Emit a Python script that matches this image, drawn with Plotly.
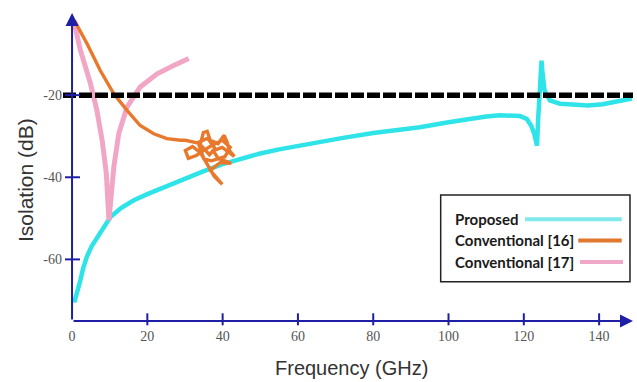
import plotly.graph_objects as go

# ---------------- data ----------------
prop_f = [0.6, 1.2, 2.2, 3.0, 4.0, 5.2, 6.7, 8.3, 10.2, 13, 16.4, 20, 23.4, 27, 30.5, 35, 40, 45,
          50, 55, 60, 66, 72, 80, 86, 92.4, 100, 106, 110, 113.6, 117, 119, 120.8, 122, 122.8,
          123.5, 123.8, 124.2, 124.7, 124.9, 125.1, 125.5, 126.9, 129.6, 133, 137, 141, 145.5, 148.7]
prop_db = [-70.5, -68, -65.1, -62, -59.2, -56.8, -54.6, -52, -49.7, -47.5, -45.6, -44.1, -42.8,
           -41.6, -40.3, -38.5, -36.8, -35.4, -34.2, -33.2, -32.3, -31.5, -30.4, -29.2, -28.5,
           -27.8, -26.6, -25.7, -25.2, -24.9, -24.9, -25.1, -25.8, -27.5, -29.5, -32.3, -26,
           -18, -11.6, -14, -16.4, -18.9, -21.3, -22.1, -22.3, -22.5, -22.2, -21.3, -20.8]

c16_f = [0.6, 4.0, 7.5, 11.1, 14.6, 18.1, 21.7, 25.2, 28.8, 30.1, 34.1, 34.9, 35.9, 36.7, 38.8,
         40.4, 41.2, 41.8, 43.1, 41.5, 39.9, 37.5, 38.8, 42.3, 39.4, 36.7, 38.3, 39.9, 37.8, 35.9,
         34.1, 32.0, 30.1, 30.9, 33.0, 34.9, 37.2, 39.9, 42.0, 40.6, 37.0, 35.0, 33.5, 36.0,
         38.0, 36.5, 34.0]
c16_db = [-1.8, -7.5, -14.0, -19.7, -23.7, -27.4, -29.4, -30.6, -31.0, -31.0, -31.8, -29.1,
          -28.8, -31.0, -31.8, -29.8, -31.5, -33.5, -34.9, -33.9, -32.7, -33.5, -35.4, -36.6,
          -36.4, -38.3, -40.0, -41.7, -39.8, -36.6, -34.0, -32.5, -33.5, -35.4, -34.7, -33.5,
          -32.2, -31.0, -32.7, -35.0, -36.0, -35.5, -31.5, -30.5, -33.0, -34.5, -32.0]

c17_f = [0.6, 2.2, 4.9, 6.6, 8.0, 9.1, 9.8, 10.6, 11.1, 12.4, 14.6, 18.1, 22.6, 27.0, 31.0]
c17_db = [-2.5, -9.0, -17.2, -23.7, -31.0, -39.0, -50.5, -40.0, -37.5, -29.4, -22.9, -18.0,
          -14.8, -12.8, -11.1]

ref_f = [-2.4, 149]
ref_db = [-20, -20]

x_ticks = [0, 20, 40, 60, 80, 100, 120, 140]
y_ticks = [-60, -40, -20]
x_range = [-2.4, 149]
y_range = [-75, 0]

names = ["Proposed", "Conventional [16]", "Conventional [17]"]
colors = ["#2fe4e8", "#e8792c", "#f2a6c6"]
legend_colors = ["#7fe9ee", "#e0782e", "#f0a8c8"]

AX = "#1f1fa6"

fig = go.Figure()
fig.add_trace(go.Scatter(x=prop_f, y=prop_db, mode="lines", line=dict(color=colors[0], width=4.5),
                         name=names[0], showlegend=False))
fig.add_trace(go.Scatter(x=c17_f, y=c17_db, mode="lines", line=dict(color=colors[2], width=5),
                         name=names[2], showlegend=False))
fig.add_trace(go.Scatter(x=c16_f, y=c16_db, mode="lines", line=dict(color=colors[1], width=3.4),
                         name=names[1], showlegend=False))
fig.add_trace(go.Scatter(x=ref_f, y=ref_db, mode="lines",
                         line=dict(color="black", width=5.5, dash="13px,3px"),
                         showlegend=False))

shapes = []
# tick marks crossing the axes
for v in x_ticks[1:]:
    shapes.append(dict(type="line", xref="x", yref="paper", x0=v, x1=v, y0=-0.014, y1=0.025,
                       line=dict(color=AX, width=2)))
for v in y_ticks:
    shapes.append(dict(type="line", xref="paper", yref="y", x0=0.0035, x1=0.0298, y0=v, y1=v,
                       line=dict(color=AX, width=2)))
# legend box
shapes.append(dict(type="rect", xref="paper", yref="paper", x0=0.6626, x1=0.9947, y0=0.1276,
                   y1=0.4091, line=dict(color="#222", width=1.5), fillcolor="white"))
leg_y = [0.3302, 0.2614, 0.1916]
leg_x0 = [0.8105, 0.904, 0.907]
leg_x1 = [0.9802, 0.9802, 0.9825]
for i in range(3):
    shapes.append(dict(type="line", xref="paper", yref="paper", x0=leg_x0[i], x1=leg_x1[i],
                       y0=leg_y[i], y1=leg_y[i], line=dict(color=legend_colors[i], width=4)))

annotations = []
# axis arrows
annotations.append(dict(x=149, y=-75, ax=0, ay=-75, xref="x", yref="y", axref="x", ayref="y",
                        text="", showarrow=True, arrowhead=2, arrowsize=1.3, arrowwidth=2,
                        arrowcolor=AX, standoff=0, startstandoff=0))
annotations.append(dict(x=0, y=0, ax=0, ay=-75, xref="x", yref="y", axref="x", ayref="y",
                        text="", showarrow=True, arrowhead=2, arrowsize=1.3, arrowwidth=2,
                        arrowcolor=AX, standoff=0, startstandoff=0))
for i in range(3):
    annotations.append(dict(x=0.6837, y=leg_y[i], xref="paper", yref="paper", text=names[i],
                            showarrow=False, xanchor="left", yanchor="middle",
                            font=dict(family="Lato", size=15, color="#1a1a1a", weight="bold")))
annotations.append(dict(x=0.507, y=-0.1526, xref="paper", yref="paper", text="Frequency (GHz)",
                        showarrow=False, xanchor="center", yanchor="middle",
                        font=dict(family="Liberation Sans, Arial", size=20, color="#333")))
annotations.append(dict(x=-0.0649, y=0.4578, xref="paper", yref="paper", text="Isolation (dB)",
                        showarrow=False, xanchor="center", yanchor="middle", textangle=-90,
                        font=dict(family="Liberation Sans, Arial", size=21, color="#333")))

fig.update_layout(
    width=637, height=382,
    margin=dict(l=63, r=4, t=13, b=61),
    paper_bgcolor="white", plot_bgcolor="white",
    showlegend=False,
    shapes=shapes, annotations=annotations,
    xaxis=dict(range=x_range, tickvals=x_ticks, ticktext=[str(v) for v in x_ticks],
               showgrid=False, zeroline=False, showline=False, ticks="", ticklabelstandoff=5,
               tickfont=dict(family="Liberation Serif", size=14, color="#555")),
    yaxis=dict(range=y_range, tickvals=y_ticks, ticktext=[str(v) for v in y_ticks],
               showgrid=False, zeroline=False, showline=False, ticks="",
               tickfont=dict(family="Liberation Serif", size=14, color="#555")),
)

fig.write_html("out.html", config={"displayModeBar": False},
               post_script="document.body.style.margin='0';document.body.style.overflow='hidden';")
